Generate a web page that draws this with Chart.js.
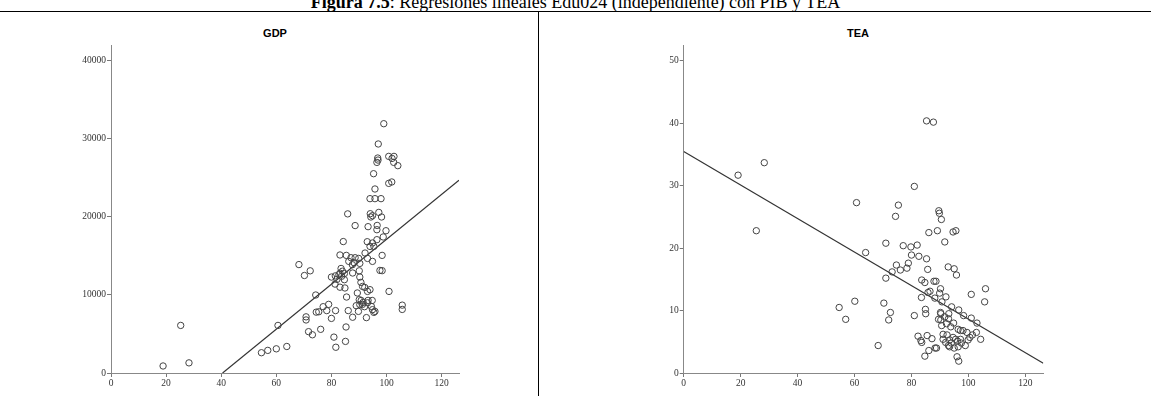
<!DOCTYPE html>
<html>
<head>
<meta charset="utf-8">
<script src="https://cdn.jsdelivr.net/npm/chart.js@4.4.0/dist/chart.umd.min.js"></script>
<style>
body{margin:0;background:#fff;width:1151px;height:396px;overflow:hidden;position:relative;}
#fig{position:absolute;left:0;right:0;top:-7px;text-align:center;font-family:"Liberation Serif",serif;font-size:18px;line-height:18px;color:#000;}
#hline{position:absolute;left:0;top:11px;width:1151px;height:1px;background:#000;}
#vline{position:absolute;left:538px;top:11px;width:1px;height:385px;background:#000;}
.ttl{position:absolute;top:27px;font-family:"Liberation Sans",Arial,sans-serif;font-weight:bold;font-size:11px;color:#000;transform:translateX(-50%);}
canvas{position:absolute;top:0;}
</style>
</head>
<body>
<div id="fig"><b>Figura 7.5</b>: Regresiones lineales Edu024 (independiente) con PIB y TEA</div>
<div id="hline"></div>
<div id="vline"></div>
<div class="ttl" style="left:275px">GDP</div>
<div class="ttl" style="left:858px">TEA</div>
<canvas id="gdpChart" width="538" height="396" style="left:0"></canvas>
<canvas id="teaChart" width="613" height="396" style="left:538px"></canvas>
<script>
// GDP vs Edu024
const gdpEdu=[18.9,25.3,28.3,54.6,56.9,60,60.6,63.8,68.2,70.2,72.3,70.8,70.8,71.7,73.1,74.3,74.5,75.4,76.1,77,
78.3,79,80,80,80.9,81.6,81.4,81.5,81.3,82.7,82,83.1,83.1,83.7,83.5,84,84.7,84.7,84.9,84.3,
83.1,85.4,86.3,85.1,85.3,85.5,85.9,86.1,87.1,87.6,88.2,87.7,87.7,88.6,88.6,89,89.4,89.8,89.9,90.1,
90.3,90.1,90.3,90.3,90.7,90.8,91.3,91.3,91.5,92.1,92,92.2,92.7,93.1,93.1,93,93.1,93.3,93.3,94,
94,94.1,94.9,94.3,94,94.5,94.8,94.9,94.9,94.9,95.3,95.4,95.4,95.8,95.8,95.8,96.5,96.6,96.5,96.8,
96.9,96.5,97,97.2,98,98.2,97.6,98.4,98.4,98.8,99,99.8,100.8,100.8,100.9,101.9,102,102.7,102.6,104.1,
105.7,105.7];
const gdpVal=[900,6100,1300,2600,2900,3100,6100,3400,13900,12500,13100,7200,6800,5300,4900,10000,7800,7850,5600,8500,
8000,8800,7000,12300,4600,3300,12450,8000,11400,12600,12000,11000,12800,12400,13400,13050,12750,11960,10900,16850,
15130,15080,14310,4050,5900,9740,20400,8000,14780,13880,14140,12820,7150,18900,14780,8630,10260,7900,14690,13100,
14050,9400,8760,12300,11620,9300,8800,11100,9050,10970,8500,15380,7100,10460,9000,16830,14690,18760,9310,10680,
16230,20420,20170,20000,22350,8540,9300,14310,16670,8120,25550,7770,16230,23590,22350,7900,17090,18920,18370,27560,
27300,27000,29360,20590,22350,20000,13150,13120,15080,17440,31960,18240,27770,24310,10460,24490,27510,27770,27000,26580,
8700,8150];
const gdpLineX=[40.5,126.3];
const gdpLineY=[0,24700];
const gdpTicksY=[0,10000,20000,30000,40000];

// TEA vs Edu024
const teaEdu=[19.1,28.3,25.5,54.6,56.9,60.1,60.7,63.9,68.3,70.3,71,71,72,72.6,73.2,74.4,74.7,75.4,76.1,77.1,
78.4,78.9,79.8,80,81,81,82,82.3,82.6,83.3,83.5,83.6,83.6,84.7,84.7,84.9,85,85.3,85.3,85.5,
85.7,85.8,86.1,86.1,86.5,87.2,87.7,87.9,88.2,88.3,88.6,88.8,89.1,89.5,89.6,89.8,89.9,90.2,90.2,90.3,
90.3,90.5,90.6,90.7,91.1,91.1,91.7,91.7,92,92.1,92.3,92.5,92.9,93,93,93.1,93.4,93.4,93.8,94,
94.1,94.6,94.6,94.8,95,95,95.5,95.6,95.8,96,96.2,96.4,96.4,96.6,96.6,97.2,97.2,97.5,98.1,98.3,
98.9,99.5,99.9,100.5,101,101,101.4,102.8,103,104.3,105.7,106];
const teaVal=[31.7,33.7,22.8,10.5,8.6,11.5,27.3,19.3,4.4,11.2,20.8,15.2,8.5,9.7,16.2,25.1,17.3,26.9,16.5,20.4,
16.8,17.6,20.2,18.9,29.9,9.2,20.5,5.9,18.7,5.2,12.1,14.9,4.9,14.5,2.7,10.2,9.5,18.3,40.4,6,
16.6,12.9,22.5,3.6,13.1,5.5,40.2,14.7,12,4,14.7,4,22.8,8.6,26,25.6,12.8,13.5,9.7,9.5,
8.5,24.6,7.6,11.4,5.4,6.2,21,9,4.9,12.2,7.9,6.1,17,8.7,4.4,9.5,5.3,4.2,7.4,4.8,
10.6,22.6,5.7,8,16.7,4,5.4,22.8,15.7,2.6,5.1,7,4.2,10.1,1.9,6.8,5.4,4.8,6.8,9.2,
4.4,6.5,5.3,5.7,8.8,12.6,6.1,6.5,8,5.4,11.4,13.5];
const teaLineX=[0,126.3];
const teaLineY=[35.5,1.55];
const teaTicksY=[0,10,20,30,40,50];

const eduTicks=[0,20,40,60,80,100,120];

function pts(xs,ys){
    return xs.map((x,i)=>({x:x,y:ys[i]}));
}

function makeChart(id,xs,ys,lx,ly,yMax,yTicks,pad){
    const tickFont={family:"Liberation Serif",size:9.5};
    new Chart(document.getElementById(id),{
        type:'scatter',
        data:{
            datasets:[{
                data:pts(xs,ys),
                pointRadius:3.2,
                pointBorderWidth:1,
                pointBorderColor:'#444',
                pointBackgroundColor:'rgba(0,0,0,0)'
            },{
                type:'line',
                data:pts(lx,ly),
                borderColor:'#333',
                borderWidth:1.2,
                pointRadius:0,
                fill:false
            }]
        },
        options:{
            responsive:false,
            animation:false,
            layout:{padding:pad},
            plugins:{legend:{display:false},tooltip:{enabled:false}},
            scales:{
                x:{
                    type:'linear',min:0,max:126.3,
                    afterFit:s=>{s.height=23;},
                    afterBuildTicks:s=>{s.ticks=eduTicks.map(v=>({value:v}));},
                    border:{color:'#888',width:1},
                    grid:{drawOnChartArea:false,drawTicks:true,tickLength:4,color:'#777'},
                    ticks:{padding:1,color:'#333',font:tickFont,maxRotation:0,autoSkip:false,callback:v=>String(v)}
                },
                y:{
                    type:'linear',min:0,max:yMax,
                    afterFit:s=>{s.width=40;},
                    afterBuildTicks:s=>{s.ticks=yTicks.map(v=>({value:v}));},
                    border:{color:'#888',width:1},
                    grid:{drawOnChartArea:false,drawTicks:true,tickLength:4,color:'#777'},
                    ticks:{padding:1,color:'#333',font:tickFont,autoSkip:false,callback:v=>String(v)}
                }
            }
        }
    });
}

makeChart("gdpChart",gdpEdu,gdpVal,gdpLineX,gdpLineY,42050,gdpTicksY,{left:71,right:79,top:45,bottom:0});
makeChart("teaChart",teaEdu,teaVal,teaLineX,teaLineY,52.56,teaTicksY,{left:105.7,right:107.7,top:45,bottom:0});
</script>
</body>
</html>
